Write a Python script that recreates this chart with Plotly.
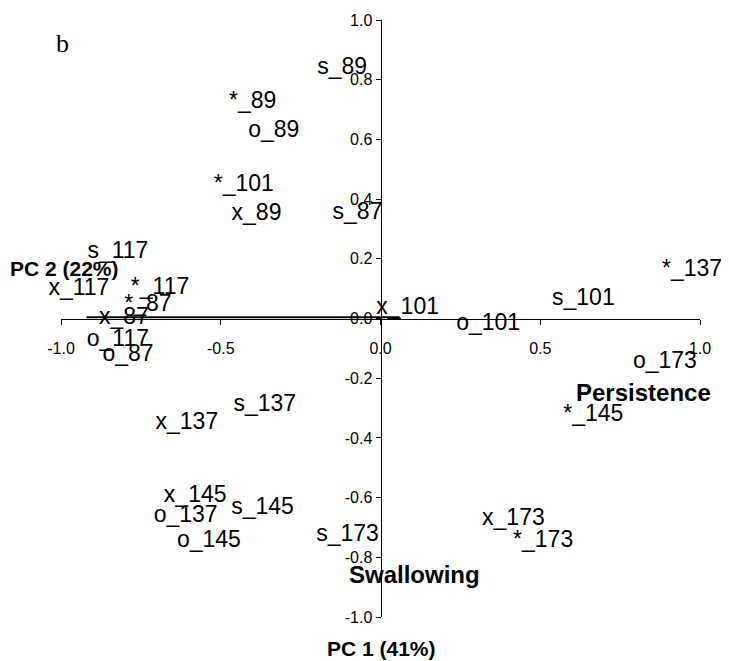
import plotly.graph_objects as go

# PCA loadings (label centre positions)
labels = ["s_89", "*_89", "o_89", "*_101", "x_89", "s_87",
          "s_117", "x_117", "*_117", "*_87", "x_87", "o_117", "o_87",
          "x_101", "o_101", "s_101", "*_137", "o_173", "*_145",
          "s_137", "x_137", "x_145", "o_137", "s_145", "o_145", "s_173",
          "x_173", "*_173"]
pc1 = [-0.12, -0.40, -0.334, -0.428, -0.388, -0.072,
       -0.822, -0.944, -0.69, -0.728, -0.803, -0.822, -0.79,
       0.085, 0.337, 0.635, 0.975, 0.89, 0.666,
       -0.362, -0.606, -0.58, -0.61, -0.369, -0.537, -0.103,
       0.416, 0.509]
pc2 = [0.84, 0.725, 0.627, 0.446, 0.349, 0.352,
       0.221, 0.097, 0.10, 0.044, 0.0, -0.074, -0.124,
       0.034, -0.02, 0.064, 0.161, -0.147, -0.325,
       -0.292, -0.352, -0.594, -0.661, -0.634, -0.745, -0.725,
       -0.671, -0.745]

x_ticks = [-1.0, -0.5, 0.0, 0.5, 1.0]
x_tick_text = ["-1.0", "-0.5", "0.0", "0.5", "1.0"]
y_ticks = [-1.0, -0.8, -0.6, -0.4, -0.2, 0.0, 0.2, 0.4, 0.6, 0.8, 1.0]
y_tick_text = ["-1.0", "-0.8", "-0.6", "-0.4", "-0.2", "0.0", "0.2", "0.4", "0.6", "0.8", "1.0"]

# short heavier stroke lying over the horizontal axis
seg_x = [-0.92, 0.06]
seg_y = [0.004, 0.004]

FONT = "Liberation Sans, Arial, sans-serif"

fig = go.Figure()
fig.add_trace(go.Scatter(x=seg_x, y=seg_y, mode="lines",
                         line=dict(color="black", width=2),
                         hoverinfo="skip", showlegend=False))
fig.add_trace(go.Scatter(x=pc1, y=pc2, mode="text", text=labels,
                         textposition="middle center",
                         textfont=dict(family=FONT, size=23, color="black"),
                         cliponaxis=False, showlegend=False))

bold = dict(family=FONT, size=24, color="black")
fig.add_annotation(x=0.822, y=-0.248, text="<b>Persistence</b>", showarrow=False, font=bold)
fig.add_annotation(x=0.106, y=-0.856, text="<b>Swallowing</b>", showarrow=False, font=bold)
fig.add_annotation(x=-0.99, y=0.168, text="<b>PC 2 (22%)</b>", showarrow=False,
                   font=dict(family=FONT, size=21, color="black"))
fig.add_annotation(xref="paper", yref="paper", x=0.502, y=-0.052,
                   xanchor="center", yanchor="middle",
                   text="<b>PC 1 (41%)</b>", showarrow=False,
                   font=dict(family=FONT, size=21, color="black"))
fig.add_annotation(x=-0.995, y=0.92, text="b", showarrow=False,
                   font=dict(family="Liberation Serif, Times New Roman, serif", size=26, color="black"))

fig.update_xaxes(range=[-1, 1], anchor="free", position=0.5, automargin=False,
                 showline=True, linecolor="black", linewidth=1,
                 ticks="outside", ticklen=5, tickcolor="black",
                 tickvals=x_ticks, ticktext=x_tick_text,
                 tickfont=dict(family=FONT, size=16, color="black"),
                 showgrid=False, zeroline=False, ticklabelstandoff=10)
fig.update_yaxes(range=[-1, 1], anchor="free", position=0.5, automargin=False,
                 showline=True, linecolor="black", linewidth=1,
                 ticks="outside", ticklen=5, tickcolor="black",
                 tickvals=y_ticks, ticktext=y_tick_text,
                 tickfont=dict(family=FONT, size=16, color="black"),
                 showgrid=False, zeroline=False)

# page body adds an 8px margin, so the figure is sized to fit inside the window
fig.update_layout(width=721, height=653,
                  margin=dict(l=53, r=29, t=12, b=44),
                  plot_bgcolor="white", paper_bgcolor="white")

fig.write_html("out.html")
